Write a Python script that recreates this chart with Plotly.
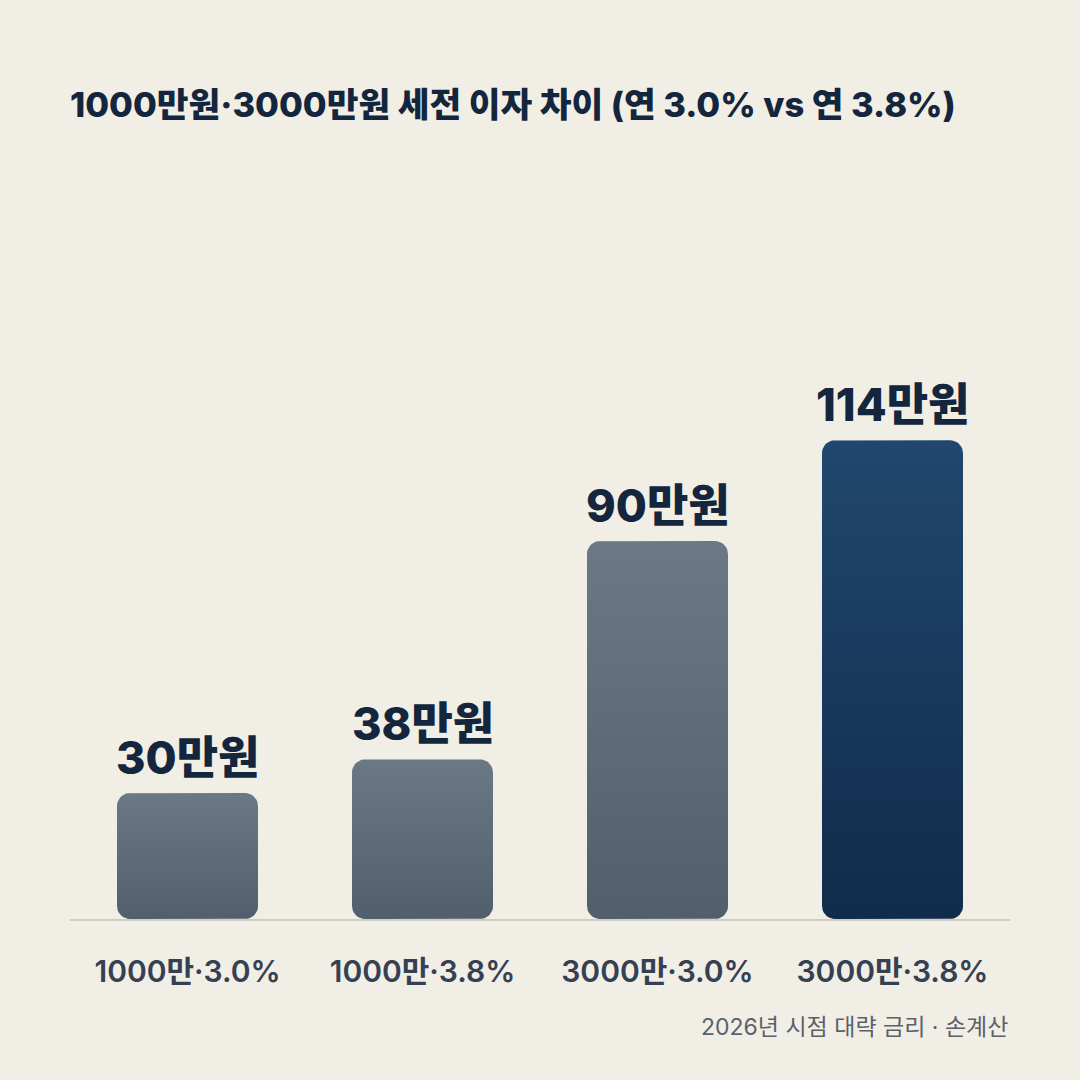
import numpy as np
import plotly.graph_objects as go

# data
categories = ["1000만·3.0%", "1000만·3.8%", "3000만·3.0%", "3000만·3.8%"]
interest = [30, 38, 90, 114]  # 만원, 세전 연 이자
value_labels = ["30만원", "38만원", "90만원", "114만원"]
title_text = "1000만원·3000만원 세전 이자 차이 (연 3.0% vs 연 3.8%)"
footer_text = "2026년 시점 대략 금리 · 손계산"

# bar colours (bottom, top) - last one highlighted
bar_colors = [
    ("#515e6e", "#6b7986"),
    ("#515e6e", "#6b7986"),
    ("#515e6e", "#6b7986"),
    ("#112b4b", "#21476e"),
]

W, H = 1080, 1080
m_l, m_r, m_t, m_b = 70, 70, 289, 161
y_max = 150
px_x = (W - m_l - m_r) / len(categories)
px_y = (H - m_t - m_b) / y_max

FONT = "Inter, Noto Sans CJK KR, sans-serif"


def rounded_bar(xc, v, half=0.3, r_px=13, n=10):
    # rounded rectangle outline in data coords
    rx = r_px / px_x
    ry = r_px / px_y
    x0, x1 = xc - half, xc + half
    xs, ys = [], []
    corners = [
        (x1 - rx, v - ry, 0, 90),
        (x0 + rx, v - ry, 90, 180),
        (x0 + rx, ry, 180, 270),
        (x1 - rx, ry, 270, 360),
    ]
    for cx, cy, a0, a1 in corners:
        t = np.radians(np.linspace(a0, a1, n))
        xs += list(cx + rx * np.cos(t))
        ys += list(cy + ry * np.sin(t))
    xs.append(xs[0])
    ys.append(ys[0])
    return xs, ys


fig = go.Figure()

for i, v in enumerate(interest):
    xs, ys = rounded_bar(i, v)
    bottom, top = bar_colors[i]
    fig.add_trace(go.Scatter(
        x=xs, y=ys, mode="lines", fill="toself",
        line=dict(width=0),
        fillgradient=dict(type="vertical", colorscale=[[0, bottom], [1, top]]),
        hoverinfo="skip", showlegend=False,
    ))
    fig.add_annotation(
        x=i, y=v, text=value_labels[i], showarrow=False,
        yanchor="bottom", yshift=6,
        font=dict(family=FONT, size=45, color="#14263d", weight=800),
    )

fig.add_annotation(
    x=1, y=-(1027 - 919) / (H - m_t - m_b), xref="paper", yref="paper",
    text=footer_text, showarrow=False, xanchor="right", yanchor="middle",
    font=dict(family=FONT, size=23, color="#5b6069"),
)

fig.update_layout(
    width=W, height=H,
    margin=dict(l=m_l, r=m_r, t=m_t, b=m_b),
    paper_bgcolor="#f1eee5",
    plot_bgcolor="rgba(0,0,0,0)",
    title=dict(
        text=title_text, x=m_l / W, xanchor="left", xref="container",
        y=1 - 105 / H, yanchor="middle", yref="container",
        font=dict(family=FONT, size=34.5, color="#14263d", weight=800),
    ),
    xaxis=dict(
        range=[-0.5, len(categories) - 0.5],
        tickvals=list(range(len(categories))), ticktext=categories,
        showgrid=False, zeroline=False,
        showline=True, linecolor="#cfcdc1", linewidth=2,
        ticks="", ticklabelstandoff=25,
        tickfont=dict(family=FONT, size=30, color="#354152", weight=600),
        fixedrange=True,
    ),
    yaxis=dict(
        range=[0, y_max], visible=False, showgrid=False, zeroline=False,
        fixedrange=True,
    ),
)

fig.write_html("out.html", config={"displayModeBar": False},
               post_script="document.body.style.margin='0';")
